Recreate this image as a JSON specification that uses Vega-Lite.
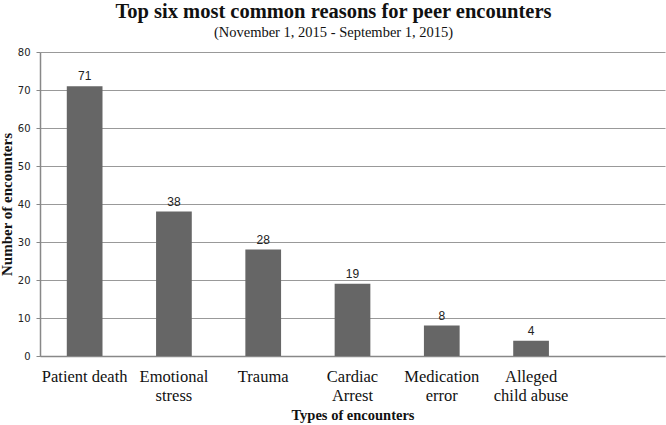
{
  "$schema": "https://vega.github.io/schema/vega-lite/v6.json",
  "autosize": "none",
  "width": 625,
  "height": 304,
  "padding": {"left": 40, "top": 52, "right": 1, "bottom": 69},
  "background": "white",
  "title": {
    "text": "Top six most common reasons for peer encounters",
    "subtitle": "(November 1, 2015 - September 1, 2015)",
    "font": "Liberation Serif",
    "fontSize": 20.5,
    "fontWeight": "bold",
    "color": "#111111",
    "subtitleFont": "Liberation Serif",
    "subtitleFontSize": 14.5,
    "subtitleColor": "#111111",
    "subtitlePadding": 3,
    "anchor": "middle",
    "dx": -19,
    "offset": 8
  },
  "data": {
    "values": [
      {"type": "Patient death", "count": 71},
      {"type": "Emotional|stress", "count": 38},
      {"type": "Trauma", "count": 28},
      {"type": "Cardiac|Arrest", "count": 19},
      {"type": "Medication|error", "count": 8},
      {"type": "Alleged|child abuse", "count": 4}
    ]
  },
  "encoding": {
    "x": {
      "field": "type",
      "type": "nominal",
      "sort": null,
      "scale": {
        "domain": ["Patient death", "Emotional|stress", "Trauma", "Cardiac|Arrest", "Medication|error", "Alleged|child abuse", "blank"],
        "paddingInner": 0.6,
        "paddingOuter": 0.3
      },
      "axis": {
        "title": "Types of encounters",
        "titleFont": "Liberation Serif",
        "titleFontSize": 14.5,
        "titleFontWeight": "bold",
        "titleColor": "#111111",
        "titlePadding": 5,
        "labelExpr": "datum.label == 'blank' ? '' : split(datum.label, '|')",
        "labelFont": "Liberation Serif",
        "labelFontSize": 16.5,
        "labelColor": "#111111",
        "labelAngle": 0,
        "labelPadding": 12,
        "labelLineHeight": 19,
        "ticks": false,
        "domainColor": "#888888",
        "domainWidth": 1.5,
        "grid": false
      }
    },
    "y": {
      "field": "count",
      "type": "quantitative",
      "scale": {"domain": [0, 80]},
      "axis": {
        "title": "Number of encounters",
        "titleFont": "Liberation Serif",
        "titleFontSize": 15,
        "titleFontWeight": "bold",
        "titleColor": "#111111",
        "titlePadding": 3,
        "values": [0, 10, 20, 30, 40, 50, 60, 70, 80],
        "labelFont": "DejaVu Sans",
        "labelFontSize": 10,
        "labelColor": "#222222",
        "labelPadding": 6,
        "tickSize": 4,
        "tickColor": "#888888",
        "domainColor": "#888888",
        "domainWidth": 1.5,
        "grid": true,
        "gridColor": "#999999",
        "gridWidth": 1.2
      }
    }
  },
  "layer": [
    {"mark": {"type": "bar", "color": "#666666"}},
    {
      "mark": {"type": "text", "dy": -10, "font": "Liberation Sans", "fontSize": 12, "color": "#222222"},
      "encoding": {"text": {"field": "count", "type": "quantitative"}}
    }
  ],
  "config": {"view": {"stroke": null}}
}
